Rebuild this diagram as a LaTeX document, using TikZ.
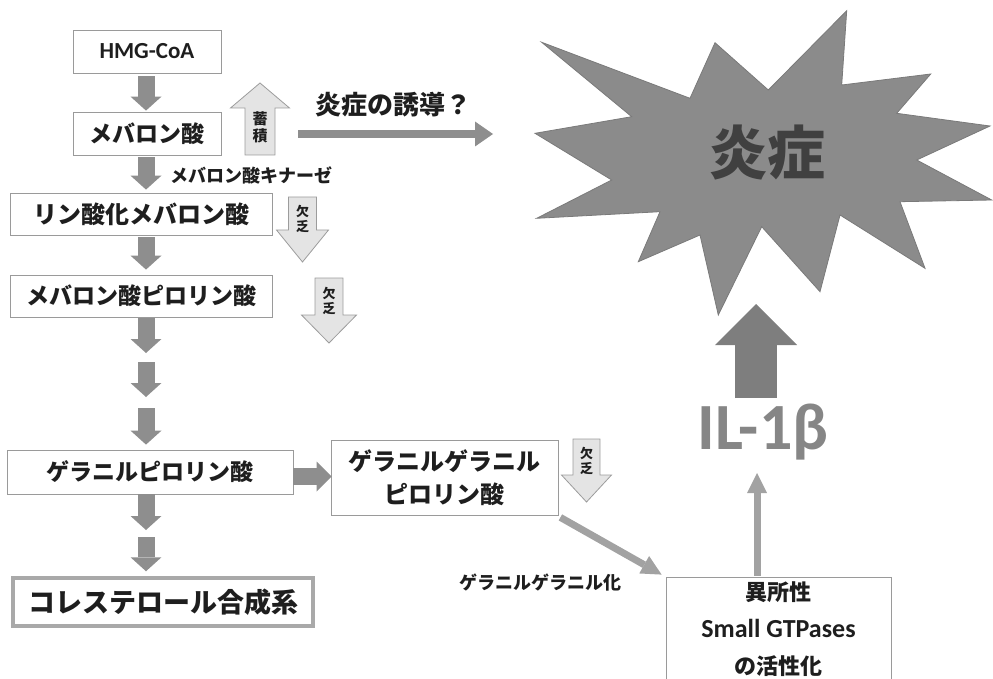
\documentclass[tikz,border=0pt]{standalone}
\usepackage{fontspec}
\setmainfont{Noto Sans CJK JP}
\newfontfamily\lat{Carlito}
\usetikzlibrary{arrows.meta,calc}
\definecolor{arr}{HTML}{8E8E8E}
\definecolor{arrlight}{HTML}{A2A2A2}
\definecolor{bigarr}{HTML}{7E7E7E}
\definecolor{boxline}{HTML}{9A9A9A}
\definecolor{hollowfill}{HTML}{E4E4E4}
\definecolor{hollowline}{HTML}{9C9C9C}
\definecolor{burst}{HTML}{8B8B8B}
\definecolor{burstedge}{HTML}{7A7A7A}
\definecolor{ilgray}{HTML}{868686}
\definecolor{txt}{HTML}{1E1E1E}
\tikzset{
  box/.style={draw=boxline, line width=0.8pt, fill=white, inner sep=0pt, text=txt},
  jp/.style={font=\bfseries\fontsize{#1}{#1}\selectfont},
  blk/.style={draw=arr, line width=17pt, -{Triangle[width=31pt,length=14pt,line width=0pt]}},
  hollow/.style={draw=hollowline, fill=hollowfill, line width=0.8pt},
  small/.style={font=\bfseries\fontsize{#1}{#1}\selectfont, text=txt, inner sep=0pt}
}
\newcommand\hollowarrow[6]{%
  \draw[hollow] ({#1-#5},#2) -- ({#1+#5},#2) -- ({#1+#5},#3) -- ({#1+#6},#3)
    -- (#1,#4) -- ({#1-#6},#3) -- ({#1-#5},#3) -- cycle;}
\begin{document}
\begin{tikzpicture}[x=1pt,y=-1pt]
\useasboundingbox (0,0) rectangle (993,679);
\clip (0,0) rectangle (993,679);

% starburst
\draw[fill=burst, draw=burstedge, line width=0.8pt]
  (541.7,42.3) -- (690,98.3) -- (715,42.7) -- (768.3,90) -- (846.7,10.7)
  -- (841.7,85) -- (930.7,74) -- (896.7,113.3) -- (990,126) -- (916.7,160)
  -- (991.7,200) -- (900,201.7) -- (925,268.3) -- (840,215) -- (820,291.7)
  -- (761.7,226.7) -- (718.3,315) -- (700,235) -- (638.3,261.7) -- (660,211.7)
  -- (536.7,218.3) -- (611.7,180) -- (535,133.3) -- (631.7,116.7) -- cycle;
\node[font=\bfseries\fontsize{58}{58}\selectfont, text=txt!85] (infl) at (767,153) {炎症};

% left column boxes
\node[box, minimum width=148pt, minimum height=43pt, font=\lat\bfseries\fontsize{23}{23}\selectfont] (hmg) at (147,51.5) {HMG-CoA};
\node[box, jp=23, minimum width=148pt, minimum height=43pt] (mev) at (147,133.5) {メバロン酸};
\node[box, jp=24, minimum width=262pt, minimum height=42pt] (phos) at (141,214) {リン酸化メバロン酸};
\node[box, jp=23, minimum width=262pt, minimum height=42pt] (mpp) at (141,296) {メバロン酸ピロリン酸};
\node[box, jp=23, minimum width=286pt, minimum height=44pt] (gpp) at (150,472) {ゲラニルピロリン酸};
\node[box, jp=27, draw=boxline!85, line width=3.5pt, minimum width=300pt, minimum height=48pt] (chol) at (163,602) {コレステロール合成系};

% left column arrows
\draw[blk] ($(hmg.south)+(-1,3)$) -- ($(mev.north)+(-1,-1)$);
\draw[blk] ($(mev.south)+(-1,2)$) -- ($(mev.south |- phos.north)+(-1,-3)$);
\draw[blk] ($(phos.south)+(5,2)$) -- ($(phos.south |- mpp.north)+(5,-5)$);
\coordinate (m1) at (146,353);
\coordinate (m2s) at (146,362);
\coordinate (m2e) at (146,397);
\coordinate (m3s) at (146,408);
\draw[blk] ($(mpp.south)+(5,1)$) -- (m1);
\draw[blk] (m2s) -- (m2e);
\draw[blk] (m3s) -- ($(gpp.north)+(-4,-5)$);
\coordinate (c1) at (146,530);
\coordinate (c2) at (146,537);
\draw[blk] ($(gpp.south)+(-4,0)$) -- (c1);
\draw[blk] (c2) -- ($(chol.north)+(-17,-5)$);

\node[small=18] (kin) at (251,175) {メバロン酸キナーゼ};

% accumulation / deficiency arrows
\hollowarrow{260}{155}{108}{83}{15}{29.5}
\node[small=15, align=center, font=\bfseries\fontsize{15}{17}\selectfont] (acc) at (260,127) {蓄\\積};
\hollowarrow{302.5}{197}{230}{262}{14}{26}
\node[small=13, align=center, font=\bfseries\fontsize{13}{15}\selectfont] (def1) at (302.5,219) {欠\\乏};
\hollowarrow{329}{278}{315}{343}{14}{27.5}
\node[small=13, align=center, font=\bfseries\fontsize{13}{15}\selectfont] (def2) at (329,301) {欠\\乏};
\hollowarrow{586.5}{439}{475}{502}{13.5}{25}
\node[small=13, align=center, font=\bfseries\fontsize{13}{15}\selectfont] (def3) at (586.5,461) {欠\\乏};

% inflammation induction
\node[small=26] (indlbl) at (393,105) {炎症の誘導？};
\coordinate (indS) at (298,134);
\coordinate (indE) at (493,134);
\draw[draw=arr, line width=8pt, -{Triangle[width=25pt,length=18pt,line width=0pt]}] (indS) -- (indE);

% geranylgeranyl branch
\node[box, jp=24, align=center, font=\bfseries\fontsize{24}{33}\selectfont, minimum width=227pt, minimum height=75pt] (gg) at (444.5,477.5) {ゲラニルゲラニル\\ピロリン酸};
\draw[draw=arr, line width=17pt, -{Triangle[width=30pt,length=15pt,line width=0pt]}] ($(gpp.east)+(0,4.5)$) -- ($(gg.west)+(1,-1)$);

\node[box, minimum width=225pt, minimum height=114pt] (act) at (778.5,634) {};
\node[align=center, font=\bfseries\fontsize{22}{37}\selectfont, text=txt, inner sep=0pt] (acttxt) at (778.5,629)
  {異所性\\{\lat\bfseries\fontsize{26}{37}\selectfont Small GTPases}\\の活性化};
\draw[draw=arrlight, line width=7pt, -{Triangle[width=20pt,length=20pt,line width=0pt]}] ($(gg.south east)+(2,2)$) -- ($(act.north west)+(-4,-2)$);
\node[small=18] (ggl) at (540,583) {ゲラニルゲラニル化};

% IL-1beta
\node[font=\lat\bfseries\fontsize{66}{66}\selectfont, text=ilgray, inner sep=0pt] (il) at (763,432) {IL-1β};
\coordinate (ilb) at (757,473);
\draw[draw=arrlight, line width=7pt, -{Triangle[width=20pt,length=20pt,line width=0pt]}] ($(act.north)+(-21.5,-1)$) -- (ilb);
\coordinate (bigS) at (756,398);
\coordinate (bigE) at (756,304);
\draw[draw=bigarr, line width=42pt, -{Triangle[width=82pt,length=41pt,line width=0pt]}] (bigS) -- (bigE);
\end{tikzpicture}
\end{document}
